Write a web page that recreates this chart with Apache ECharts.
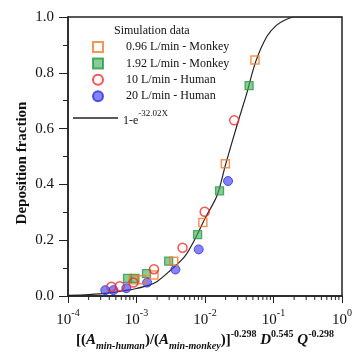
<!DOCTYPE html>
<html><head><meta charset="utf-8">
<script src="https://cdn.jsdelivr.net/npm/echarts@6/dist/echarts.min.js"></script>
<style>html,body{margin:0;padding:0;background:#fff}#c{width:355px;height:352px}</style>
</head><body><div id="c"></div>
<script>
// ---- data ----
const seriesNames = ['0.96 L/min - Monkey', '1.92 L/min - Monkey', '10 L/min - Human', '20 L/min - Human'];
const fitName = '1-e -32.02X';
const m096X = [9.0e-4, 1.2e-3, 1.8e-3, 3.5e-3, 9.3e-3, 0.0198, 0.0536];
const m096Y = [0.058, 0.058, 0.075, 0.125, 0.263, 0.474, 0.846];
const m192X = [7.4e-4, 9.5e-4, 1.4e-3, 2.95e-3, 7.8e-3, 0.0163, 0.044];
const m192Y = [0.063, 0.063, 0.080, 0.125, 0.220, 0.377, 0.754];
const h10X = [4.3e-4, 5.7e-4, 9.0e-4, 1.8e-3, 4.7e-3, 9.9e-3, 0.0267];
const h10Y = [0.033, 0.035, 0.048, 0.096, 0.173, 0.302, 0.630];
const h20X = [3.5e-4, 4.6e-4, 7.1e-4, 1.43e-3, 3.7e-3, 8.1e-3, 0.0217];
const h20Y = [0.021, 0.021, 0.028, 0.048, 0.095, 0.167, 0.412];
const fitX = [1e-4, 2e-4, 4e-4, 7e-4, 1e-3, 1.5e-3, 2e-3, 3e-3, 5e-3, 7e-3, 1e-2, 1.5e-2, 2e-2, 3e-2, 4e-2, 5.5e-2, 8e-2, 0.11, 0.15, 0.2, 1];
const fitY = [0.002, 0.005, 0.011, 0.02, 0.027, 0.038, 0.052, 0.088, 0.14, 0.2, 0.278, 0.36, 0.472, 0.62, 0.72, 0.84, 0.93, 0.97, 0.99, 1.0, 1.0];
const xMinorTicks = [2e-4,3e-4,4e-4,5e-4,6e-4,7e-4,8e-4,9e-4,2e-3,3e-3,4e-3,5e-3,6e-3,7e-3,8e-3,9e-3,2e-2,3e-2,4e-2,5e-2,6e-2,7e-2,8e-2,9e-2,0.2,0.3,0.4,0.5,0.6,0.7,0.8,0.9];
const yTickLabels = ['0.0','0.2','0.4','0.6','0.8','1.0'];

const zip = (a, b) => a.map((v, i) => [v, b[i]]);
const F = 'Liberation Serif';
const SQ = 'path://M0,0L10,0L10,10L0,10Z';
const chart = echarts.init(document.getElementById('c'), null, {renderer: 'canvas'});
chart.setOption({
  animation: false,
  grid: {left: 68, right: 9, top: 17, bottom: 56, show: true, borderColor: '#222', borderWidth: 1.5},
  title: {text: 'Simulation data', left: 114, top: 25, padding: 0, textStyle: {fontFamily: F, fontSize: 12, fontWeight: 'normal', color: '#111'}},
  legend: [{
    data: [{name: seriesNames[0], icon: SQ}, {name: seriesNames[1], icon: SQ}, {name: seriesNames[2], icon: 'circle'}, {name: seriesNames[3], icon: 'circle'}],
    orient: 'vertical', left: 92, top: 41, padding: 0, itemWidth: 10, itemHeight: 10, itemGap: 4.4, symbolKeepAspect: true,
    formatter: name => '{p| }{t|' + name + '}',
    textStyle: {fontFamily: F, fontSize: 12, color: '#111', rich: {p: {width: 18, fontSize: 12, fontFamily: F}, t: {fontFamily: F, fontSize: 12}}}
  }, {
    data: [{name: fitName, icon: 'rect'}], orient: 'vertical', left: 73, top: 109, padding: 0, itemWidth: 45, itemHeight: 1.3,
    formatter: () => '{a|1-e}{s|-32.02X}',
    textStyle: {fontFamily: F, fontSize: 12, color: '#111', rich: {a: {fontFamily: F, fontSize: 12, lineHeight: 18, verticalAlign: 'bottom'}, s: {fontFamily: F, fontSize: 9, lineHeight: 10, verticalAlign: 'top'}}}
  }],
  xAxis: {
    type: 'log', logBase: 10, min: 1e-4, max: 1,
    axisLine: {lineStyle: {color: '#222', width: 1.5}},
    axisTick: {show: true, length: 7, lineStyle: {color: '#222', width: 1}},
    splitLine: {show: false},
    axisLabel: {
      margin: 12, color: '#111',
      formatter: v => '{b|10}{s|' + Math.round(Math.log10(v)) + '}',
      rich: {b: {fontFamily: F, fontSize: 15, lineHeight: 20, verticalAlign: 'bottom'}, s: {fontFamily: F, fontSize: 10, lineHeight: 11, verticalAlign: 'top'}}
    }
  },
  yAxis: {
    type: 'value', min: 0, max: 1, interval: 0.2,
    axisLine: {show: true, lineStyle: {color: '#222', width: 1.5}},
    axisTick: {show: true, length: 9, lineStyle: {color: '#222', width: 1}},
    minorTick: {show: true, splitNumber: 2, length: 5, lineStyle: {color: '#222', width: 1}},
    splitLine: {show: false},
    axisLabel: {margin: 14, fontFamily: F, fontSize: 15, color: '#111', formatter: (v) => yTickLabels[Math.round(v * 5)]}
  },
  graphic: [{
    type: 'text', rotation: Math.PI / 2, y: 163, x: 22,
    style: {text: 'Deposition fraction', font: 'bold 15px "Liberation Serif"', fill: '#111', align: 'center', verticalAlign: 'middle'}
  }, {
    type: 'text', x: 205, y: 340,
    style: {
      text: '{n|[(}{i|A}{sb|min-human}{n|)/(}{i|A}{sb|min-monkey}{n|)]}{sp|-0.298}{n| }{i|D}{sp|0.545}{n| }{i|Q}{sp|-0.298}',
      align: 'center', verticalAlign: 'middle', fill: '#111',
      rich: {
        n: {fontFamily: F, fontSize: 15, fontWeight: 'bold', lineHeight: 22, fill: '#111'},
        i: {fontFamily: F, fontSize: 15, fontWeight: 'bold', fontStyle: 'italic', lineHeight: 22, fill: '#111'},
        sb: {fontFamily: F, fontSize: 10, fontWeight: 'bold', fontStyle: 'italic', lineHeight: 10, verticalAlign: 'bottom', fill: '#111'},
        sp: {fontFamily: F, fontSize: 10, fontWeight: 'bold', lineHeight: 10, verticalAlign: 'top', fill: '#111'}
      }
    }
  }],
  series: [
    {name: fitName, type: 'line', data: zip(fitX, fitY), symbol: 'none', smooth: 0.3, lineStyle: {color: '#222', width: 1.2}, itemStyle: {color: '#222'}, z: 1},
    {name: seriesNames[0], type: 'scatter', symbol: 'rect', symbolSize: 8, data: zip(m096X, m096Y), itemStyle: {color: 'rgba(255,255,255,0)', borderColor: '#f07a2a', borderWidth: 1.5}, z: 3},
    {name: seriesNames[1], type: 'scatter', symbol: 'rect', symbolSize: 8, data: zip(m192X, m192Y), itemStyle: {color: 'rgba(60,170,80,0.75)', borderColor: '#2a9a48', borderWidth: 1.3}, z: 2},
    {name: seriesNames[2], type: 'scatter', symbol: 'circle', symbolSize: 9, data: zip(h10X, h10Y), itemStyle: {color: 'rgba(255,255,255,0)', borderColor: '#f02a2a', borderWidth: 1.5}, z: 3},
    {name: seriesNames[3], type: 'scatter', symbol: 'circle', symbolSize: 9, data: zip(h20X, h20Y), itemStyle: {color: 'rgba(50,50,240,0.75)', borderColor: '#3030e0', borderWidth: 1}, z: 2},
    {type: 'custom', silent: true, clip: false, data: xMinorTicks.map(v => [v, 0]), encode: {x: 0, y: 1}, z: 5,
      renderItem: (params, api) => {
        const p = api.coord([api.value(0), 0]);
        return {type: 'line', shape: {x1: p[0], y1: p[1], x2: p[0], y2: p[1] + 4}, style: {stroke: '#222', lineWidth: 1}};
      }}
  ]
});
</script></body></html>
